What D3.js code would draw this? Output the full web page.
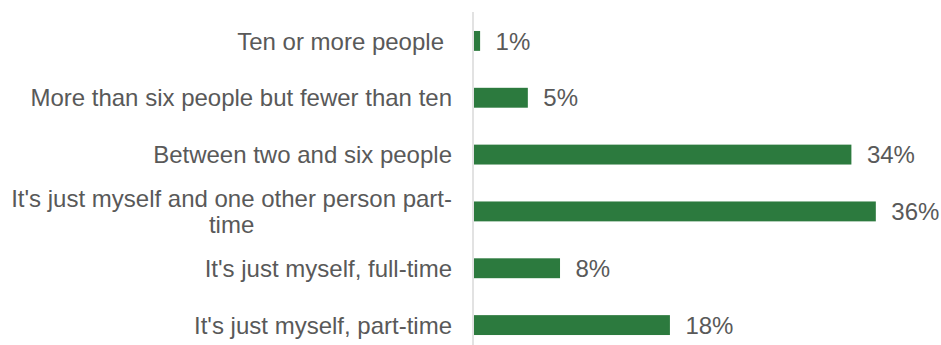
<!DOCTYPE html>
<html>
<head>
<meta charset="utf-8">
<script src="https://cdn.jsdelivr.net/npm/d3@7"></script>
<style>
  html, body { margin: 0; padding: 0; background: #ffffff; }
  svg { display: block; }
  text { font-family: "Liberation Sans", Arial, sans-serif; fill: #595959; }
</style>
</head>
<body>
<svg id="chart" width="941" height="345"></svg>
<script>
const categories = [
  "Ten or more people",
  "More than six people but fewer than ten",
  "Between two and six people",
  "It's just myself and one other person part-time",
  "It's just myself, full-time",
  "It's just myself, part-time"
];
const values = [0.55, 4.85, 34.0, 36.2, 7.75, 17.65];
const valueLabels = ["1%", "5%", "34%", "36%", "8%", "18%"];

const W = 941, H = 345;
const fontSize = 24;
const svg = d3.select("#chart");

const x = d3.scaleLinear().domain([0, 40]).range([474, 918]);
const y = d3.scaleBand().domain(categories).range([12.5, 353.5])
  .paddingInner(0.65).paddingOuter(0.325);

// axis line
svg.append("line")
  .attr("x1", 473).attr("x2", 473)
  .attr("y1", 12).attr("y2", H)
  .attr("stroke", "#d9d9d9").attr("stroke-width", 1.5);

// bars
svg.selectAll("rect.bar").data(categories).enter().append("rect")
  .attr("class", "bar")
  .attr("x", x(0))
  .attr("y", d => y(d))
  .attr("width", (d, i) => x(values[i]) - x(0))
  .attr("height", y.bandwidth())
  .attr("fill", "#2C7A3E");

// value labels
svg.selectAll("text.val").data(categories).enter().append("text")
  .attr("class", "val")
  .attr("x", (d, i) => x(values[i]) + 15.5)
  .attr("y", d => y(d) + y.bandwidth() / 2)
  .attr("dy", "0.36em")
  .style("font-size", fontSize + "px")
  .text((d, i) => valueLabels[i]);

// category labels with wrapping
const maxW = 446;
const labelRight = 452;
const measure = svg.append("text").style("font-size", fontSize + "px").attr("x", -1000);
function wrap(str) {
  const tokens = str.split(/(?<=[ \-])/);
  const lines = [];
  let cur = "";
  tokens.forEach(t => {
    const test = cur + t;
    measure.text(test.trimEnd());
    if (measure.node().getComputedTextLength() > maxW && cur !== "") {
      lines.push(cur.trimEnd());
      cur = t;
    } else {
      cur = test;
    }
  });
  if (cur) lines.push(cur.trimEnd());
  return lines;
}

categories.forEach(c => {
  const lines = wrap(c);
  const cy = y(c) + y.bandwidth() / 2;
  const lh = 26.6;
  const widths = lines.map(l => { measure.text(l); return measure.node().getComputedTextLength(); });
  const blockW = d3.max(widths);
  const g = svg.append("text")
    .style("font-size", fontSize + "px")
    .attr("text-anchor", lines.length > 1 ? "middle" : "end");
  lines.forEach((l, i) => {
    g.append("tspan")
      .attr("x", lines.length > 1 ? labelRight - blockW / 2 : (c === "Ten or more people" ? labelRight - 8 : labelRight))
      .attr("y", cy + (i - (lines.length - 1) / 2) * lh)
      .attr("dy", "0.36em")
      .text(l);
  });
});
measure.remove();
</script>
</body>
</html>
